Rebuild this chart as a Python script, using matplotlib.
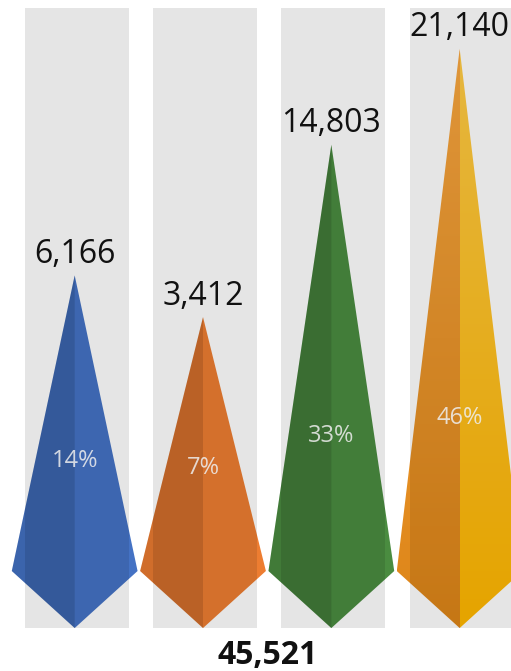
import matplotlib.pyplot as plt
import numpy as np
from matplotlib.patches import Polygon, Rectangle
from matplotlib.colors import to_rgb

# Data
values = [6166, 3412, 14803, 21140]
colors = ['#4472C4', '#ED7D31', '#4A8C40', '#FFB700']
# gold arrow uses a gradient: (top, bottom) for left and right halves
gold_left = ['#F9A740', '#DD8518']
gold_right = ['#FFCC47', '#FFB700']

total = sum(values)
pcts = [round(v / total * 100) for v in values]

plt.rcParams['font.family'] = ['Open Sans', 'DejaVu Sans']

fig = plt.figure(figsize=(5.11, 6.71), dpi=100)
ax = fig.add_axes([0, 0, 1, 1])
ax.axis('off')

lift = 13370      # arrow height above the shoulder besides the value
tip = -3770       # lower point of the arrow
half_w = 0.49
rect_w = 0.81
rect_top = 37200

for i, v in enumerate(values):
    x = i
    apex = v + lift
    pts = [(x - half_w, 0), (x, apex), (x + half_w, 0), (x, tip)]
    if i == 3:
        poly = Polygon(pts, closed=True, facecolor='none', edgecolor='none')
        ax.add_patch(poly)
        n = 256
        t = np.linspace(0, 1, n)[:, None]
        lt, lb = np.array(to_rgb(gold_left[0])), np.array(to_rgb(gold_left[1]))
        rt, rb = np.array(to_rgb(gold_right[0])), np.array(to_rgb(gold_right[1]))
        img = np.stack([lt + (lb - lt) * t, rt + (rb - rt) * t], axis=1)
        im = ax.imshow(img, extent=[x - half_w, x + half_w, tip, apex],
                       aspect='auto', interpolation='nearest', zorder=1)
        im.set_clip_path(poly)
    else:
        ax.add_patch(Polygon(pts, closed=True, facecolor=colors[i],
                             edgecolor='none', zorder=1))
        # darker left face
        ax.add_patch(Polygon([(x - half_w, 0), (x, apex), (x, tip)], closed=True,
                             facecolor='black', alpha=0.12, edgecolor='none', zorder=2))

    # grey column drawn over the arrow
    ax.add_patch(Rectangle((x - rect_w / 2 + 0.015, tip), rect_w, rect_top - tip,
                           facecolor='black', alpha=0.1, edgecolor='none', zorder=3))

    ax.annotate(f'{v:,}', (x, apex), xytext=(0, 9), textcoords='offset points',
                ha='center', va='baseline', fontsize=23, color='#111111', zorder=5)
    ax.text(x, 6150 + 0.186 * v, f'{pcts[i]}%', ha='center', va='center',
            fontsize=17, color='#eeeeee', alpha=0.85, zorder=5)

ax.text(1.5, -5600, f'{total:,}', ha='center', va='center',
        fontsize=23, fontweight='bold', color='#111111', zorder=5)

ax.set_xlim(-0.582, 3.4)
ax.set_ylim(-6609, 37740)

plt.savefig('out.png', dpi=100)
